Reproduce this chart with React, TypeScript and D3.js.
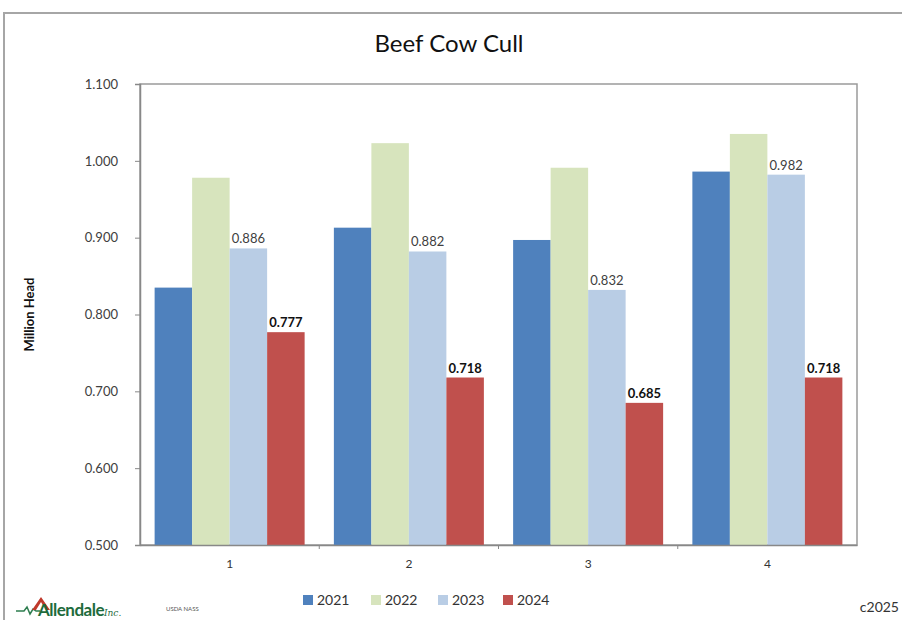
import React, { useEffect, useRef } from 'react';
import * as d3 from 'd3';

const quarters = ['1', '2', '3', '4'];
const years = ['2021', '2022', '2023', '2024'];
const cull2021 = [0.835, 0.913, 0.897, 0.986];
const cull2022 = [0.978, 1.023, 0.991, 1.035];
const cull2023 = [0.886, 0.882, 0.832, 0.982];
const cull2024 = [0.777, 0.718, 0.685, 0.718];
const yTicks = [0.5, 0.6, 0.7, 0.8, 0.9, 1.0, 1.1];

const seriesColors = ['#4F81BD', '#D7E4BD', '#B9CDE5', '#C0504D'];

const W = 902;
const H = 620;
const FONT = 'Lato, "Open Sans", sans-serif';

const App: React.FC = () => {
  const ref = useRef<SVGSVGElement | null>(null);

  useEffect(() => {
    if (!ref.current) return;
    const svg = d3.select(ref.current);
    svg.selectAll('*').remove();

    const plot = { left: 140, right: 857, top: 84, bottom: 545 };
    const seriesValues = [cull2021, cull2022, cull2023, cull2024];

    const rows = quarters.map((q, i) => ({
      q,
      vals: years.map((y, j) => ({ year: y, value: seriesValues[j][i], idx: j }))
    }));

    const x0 = d3.scaleBand<string>().domain(quarters).range([plot.left, plot.right]).padding(0);
    const x1 = d3.scaleBand<string>().domain(years).range([0, x0.bandwidth()])
      .paddingInner(0).paddingOuter(0.39);
    const y = d3.scaleLinear().domain([0.5, 1.1]).range([plot.bottom, plot.top]);
    const color = d3.scaleOrdinal<string, string>().domain(years).range(seriesColors);

    // outer frame (top + left edges)
    svg.append('line').attr('x1', 3).attr('x2', W).attr('y1', 13).attr('y2', 13)
      .attr('stroke', '#a6a6a6').attr('stroke-width', 2);
    svg.append('line').attr('x1', 4).attr('x2', 4).attr('y1', 13).attr('y2', H)
      .attr('stroke', '#a6a6a6').attr('stroke-width', 2);

    // title
    svg.append('text')
      .attr('x', 449).attr('y', 52)
      .attr('text-anchor', 'middle')
      .style('font-family', FONT).style('font-size', '24px').attr('fill', '#111')
      .text('Beef Cow Cull');

    // plot border
    svg.append('rect')
      .attr('x', plot.left).attr('y', plot.top)
      .attr('width', plot.right - plot.left).attr('height', plot.bottom - plot.top)
      .attr('fill', 'none').attr('stroke', '#9a9a9a').attr('stroke-width', 1.5);

    // bars
    const groups = svg.append('g').selectAll('g')
      .data(rows).join('g')
      .attr('transform', d => `translate(${x0(d.q)},0)`);

    groups.selectAll('rect')
      .data(d => d.vals).join('rect')
      .attr('x', d => x1(d.year)!)
      .attr('y', d => y(d.value))
      .attr('width', x1.bandwidth())
      .attr('height', d => plot.bottom - y(d.value))
      .attr('fill', d => color(d.year));

    // labels for 2023 (regular) and 2024 (bold)
    groups.selectAll('text.lbl')
      .data(d => d.vals.filter(v => v.idx >= 2)).join('text')
      .attr('class', 'lbl')
      .attr('x', d => x1(d.year)! + x1.bandwidth() / 2)
      .attr('y', d => y(d.value) - 5)
      .attr('text-anchor', 'middle')
      .style('font-family', FONT)
      .style('font-size', '13px')
      .style('font-weight', d => (d.idx === 3 ? 'bold' : 'normal'))
      .attr('fill', d => (d.idx === 3 ? '#111' : '#404040'))
      .text(d => d.value.toFixed(3));

    // y axis
    const yAxis = svg.append('g')
      .attr('transform', `translate(${plot.left},0)`)
      .call(d3.axisLeft(y).tickValues(yTicks).tickFormat(d3.format('.3f')).tickSize(5).tickPadding(17));
    yAxis.select('.domain').attr('stroke', '#888').attr('stroke-width', 1.5);
    yAxis.selectAll('.tick line').attr('stroke', '#888');
    yAxis.selectAll('.tick text')
      .style('font-family', FONT).style('font-size', '13px').attr('fill', '#404040');

    // x axis
    const xAxis = svg.append('g')
      .attr('transform', `translate(0,${plot.bottom})`)
      .call(d3.axisBottom(x0).tickSize(0).tickPadding(14));
    xAxis.select('.domain').attr('stroke', '#888').attr('stroke-width', 1.5);
    xAxis.selectAll('.tick text')
      .style('font-family', FONT).style('font-size', '12px').attr('fill', '#333');
    // separators between categories
    svg.append('g').selectAll('line')
      .data(quarters.slice(1)).join('line')
      .attr('x1', d => x0(d)!).attr('x2', d => x0(d)!)
      .attr('y1', plot.bottom).attr('y2', plot.bottom + 4)
      .attr('stroke', '#888');

    // y axis title
    svg.append('text')
      .attr('transform', `translate(34,${(plot.top + plot.bottom) / 2}) rotate(-90)`)
      .attr('text-anchor', 'middle')
      .style('font-family', FONT).style('font-size', '13px').style('font-weight', 'bold')
      .attr('fill', '#111')
      .text('Million Head');

    // legend
    const legendX = [303, 371, 438, 503];
    const legend = svg.append('g').selectAll('g')
      .data(years).join('g')
      .attr('transform', (d, i) => `translate(${legendX[i]},600)`);
    legend.append('rect')
      .attr('x', 0).attr('y', -5).attr('width', 10).attr('height', 10)
      .attr('fill', d => color(d));
    legend.append('text')
      .attr('x', 14).attr('y', 5)
      .style('font-family', FONT).style('font-size', '14px').attr('fill', '#333')
      .text(d => d);

    // copyright
    svg.append('text')
      .attr('x', 899).attr('y', 612).attr('text-anchor', 'end')
      .style('font-family', FONT).style('font-size', '14px').attr('fill', '#333')
      .text('c2025');

    // source
    svg.append('text')
      .attr('x', 166).attr('y', 611)
      .style('font-family', FONT).style('font-size', '6px').attr('fill', '#555')
      .text('USDA NASS');

    // logo
    const logo = svg.append('g').attr('transform', 'translate(16,596)');
    logo.append('path')
      .attr('d', 'M0,15 L8,15 L11,11 L14,18 L17,13 L20,15 L24,15')
      .attr('fill', 'none').attr('stroke', '#2e7d4f').attr('stroke-width', 1.5);
    logo.append('path')
      .attr('d', 'M16,14 L25,1 L34,14 L30,14 L25,6 L20,14 Z')
      .attr('fill', '#c0392b');
    logo.append('text')
      .attr('x', 22).attr('y', 20)
      .style('font-family', FONT).style('font-size', '17px').style('font-weight', 'bold')
      .style('letter-spacing', '-0.5px')
      .attr('fill', '#1e6b3c')
      .text('Allendale');
    logo.append('text')
      .attr('x', 88).attr('y', 20)
      .style('font-family', 'DejaVu Serif, serif').style('font-size', '9px').style('font-style', 'italic')
      .attr('fill', '#1e6b3c')
      .text('Inc.');
  }, []);

  return (
    <svg
      ref={ref}
      width={W}
      height={H}
      style={{ position: 'absolute', left: 0, top: 0, background: '#fff' }}
    />
  );
};

export default App;
